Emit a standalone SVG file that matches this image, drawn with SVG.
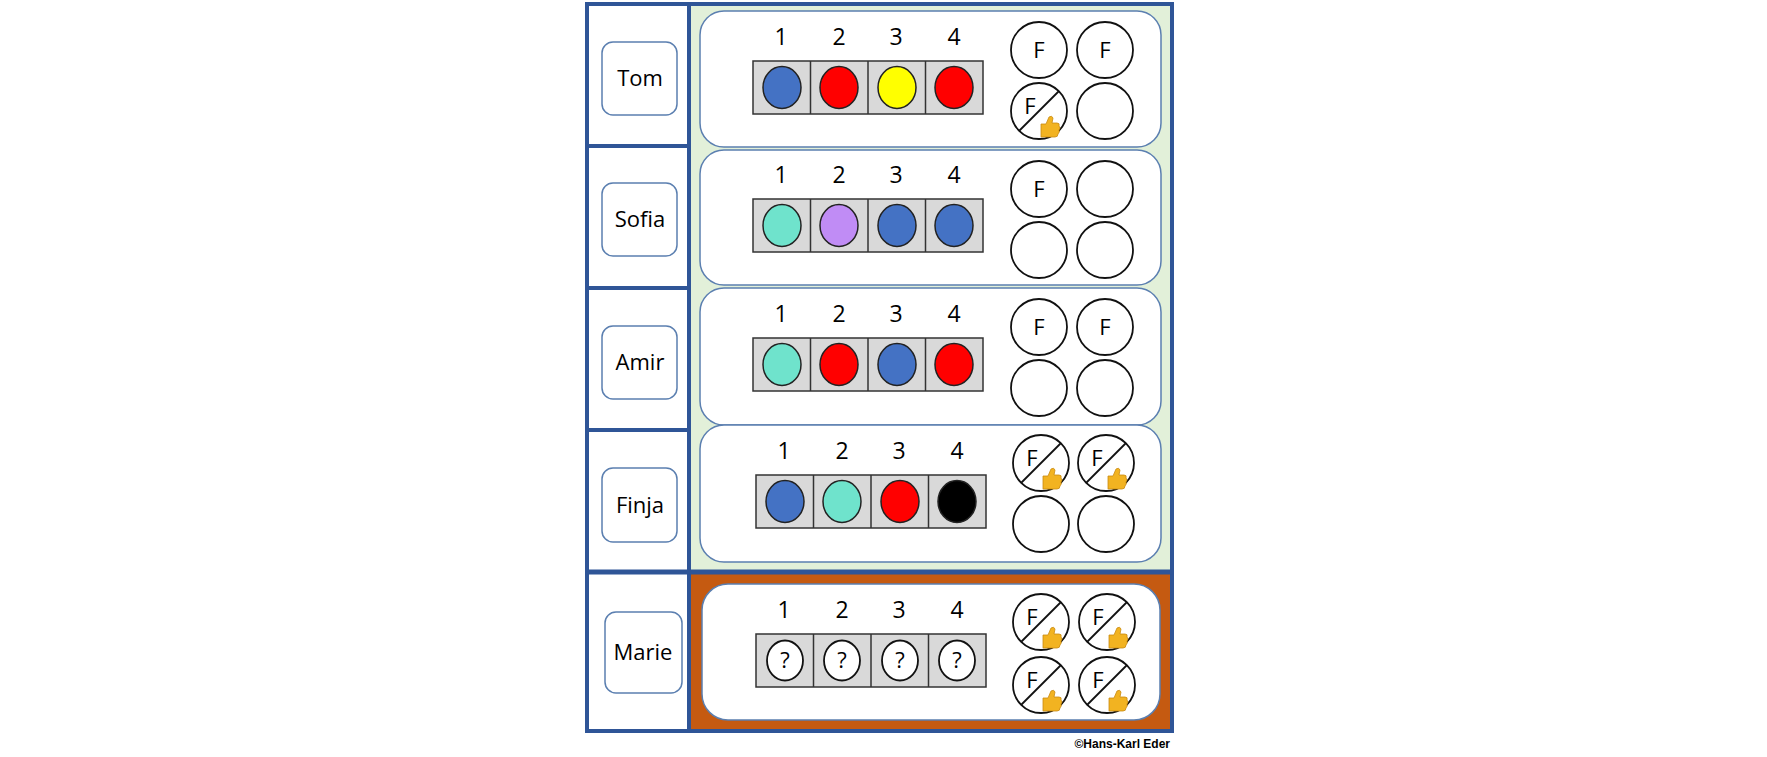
<svg xmlns="http://www.w3.org/2000/svg" xmlns:xlink="http://www.w3.org/1999/xlink" width="1767" height="757" viewBox="0 0 1767 757">
<style>
.frame{fill:none;stroke:#2F5597;stroke-width:4}
.box{fill:#fff;stroke:#5B7FB0;stroke-width:1.5}
.name{font-family:"Open Sans","Liberation Sans",sans-serif;font-size:22px;text-anchor:middle;fill:#000}
.num{font-family:"Open Sans","Liberation Sans",sans-serif;font-size:23px;text-anchor:middle;fill:#000}
.slot{fill:#D9D9D9;stroke:#333;stroke-width:1.5}
.dot{stroke:#222;stroke-width:1.5}
.ring{fill:#fff;stroke:#111;stroke-width:1.8}
.f{font-family:"Open Sans","Liberation Sans",sans-serif;font-size:22px;text-anchor:middle;fill:#000}
.copy{font-family:"Liberation Sans",sans-serif;font-size:12px;font-weight:bold;text-anchor:end;fill:#000}
</style>
<defs>
<g id="thumb">
<path d="M-7,-1 h5 l3,-7 q3,-2 4,1 l-1,5 h5 q3,0 2,3 q2,2 0,4 q1,2 -1,4 q0,3 -3,3 h-9 h-5 z" fill="#F2B321" stroke="#C98A12" stroke-width="0.8"/>
</g>
<g id="fring"><circle r="28" class="ring"/><text y="8" class="f">F</text></g>
<g id="xring"><circle r="28" class="ring"/><line x1="-20" y1="20" x2="20" y2="-20" stroke="#111" stroke-width="1.8"/><text x="-9" y="3" class="f">F</text><use xlink:href="#thumb" x="9" y="14"/></g>
<g id="ering"><circle r="28" class="ring"/></g>
<g id="slots">
<rect x="0" y="0" width="230" height="53" class="slot"/>
<line x1="57.5" y1="0" x2="57.5" y2="53" stroke="#333" stroke-width="1.5"/>
<line x1="115" y1="0" x2="115" y2="53" stroke="#333" stroke-width="1.5"/>
<line x1="172.5" y1="0" x2="172.5" y2="53" stroke="#333" stroke-width="1.5"/>
<text x="28" y="-16" class="num">1</text><text x="86" y="-16" class="num">2</text><text x="143" y="-16" class="num">3</text><text x="201" y="-16" class="num">4</text>
</g>
</defs>
<rect width="1767" height="757" fill="#fff"/>
<rect id="green-panel" x="689" y="4" width="483" height="567" fill="#E2F0D9"/>
<rect id="orange-panel" x="689" y="573" width="483" height="158" fill="#C55A11"/>

<g id="row-tom">
<rect x="700" y="11" width="461" height="136" rx="24" class="box"/>
<use xlink:href="#slots" x="753" y="61"/>
<ellipse cx="782" cy="87.5" rx="19" ry="21" fill="#4472C4" class="dot"/>
<ellipse cx="839" cy="87.5" rx="19" ry="21" fill="#FF0000" class="dot"/>
<ellipse cx="897" cy="87.5" rx="19" ry="21" fill="#FFFF00" class="dot"/>
<ellipse cx="954" cy="87.5" rx="19" ry="21" fill="#FF0000" class="dot"/>
<use xlink:href="#fring" x="1039" y="50"/><use xlink:href="#fring" x="1105" y="50"/>
<use xlink:href="#xring" x="1039" y="111"/><use xlink:href="#ering" x="1105" y="111"/>
</g>
<g id="row-sofia">
<rect x="700" y="150" width="461" height="135" rx="24" class="box"/>
<use xlink:href="#slots" x="753" y="199"/>
<ellipse cx="782" cy="225.5" rx="19" ry="21" fill="#6FE3CC" class="dot"/>
<ellipse cx="839" cy="225.5" rx="19" ry="21" fill="#C08CF5" class="dot"/>
<ellipse cx="897" cy="225.5" rx="19" ry="21" fill="#4472C4" class="dot"/>
<ellipse cx="954" cy="225.5" rx="19" ry="21" fill="#4472C4" class="dot"/>
<use xlink:href="#fring" x="1039" y="189"/><use xlink:href="#ering" x="1105" y="189"/>
<use xlink:href="#ering" x="1039" y="250"/><use xlink:href="#ering" x="1105" y="250"/>
</g>
<g id="row-amir">
<rect x="700" y="288" width="461" height="137" rx="24" class="box"/>
<use xlink:href="#slots" x="753" y="338"/>
<ellipse cx="782" cy="364.5" rx="19" ry="21" fill="#6FE3CC" class="dot"/>
<ellipse cx="839" cy="364.5" rx="19" ry="21" fill="#FF0000" class="dot"/>
<ellipse cx="897" cy="364.5" rx="19" ry="21" fill="#4472C4" class="dot"/>
<ellipse cx="954" cy="364.5" rx="19" ry="21" fill="#FF0000" class="dot"/>
<use xlink:href="#fring" x="1039" y="327"/><use xlink:href="#fring" x="1105" y="327"/>
<use xlink:href="#ering" x="1039" y="388"/><use xlink:href="#ering" x="1105" y="388"/>
</g>
<g id="row-finja">
<rect x="700" y="425" width="461" height="137" rx="24" class="box"/>
<use xlink:href="#slots" x="756" y="475"/>
<ellipse cx="785" cy="501.5" rx="19" ry="21" fill="#4472C4" class="dot"/>
<ellipse cx="842" cy="501.5" rx="19" ry="21" fill="#6FE3CC" class="dot"/>
<ellipse cx="900" cy="501.5" rx="19" ry="21" fill="#FF0000" class="dot"/>
<ellipse cx="957" cy="501.5" rx="19" ry="21" fill="#000" class="dot"/>
<use xlink:href="#xring" x="1041" y="463"/><use xlink:href="#xring" x="1106" y="463"/>
<use xlink:href="#ering" x="1041" y="524"/><use xlink:href="#ering" x="1106" y="524"/>
</g>
<g id="row-marie">
<rect x="702" y="584" width="458" height="136" rx="26" class="box"/>
<use xlink:href="#slots" x="756" y="634"/>
<ellipse cx="785" cy="660.5" rx="18" ry="20" class="ring"/><text x="785" y="668" class="f">?</text>
<ellipse cx="842" cy="660.5" rx="18" ry="20" class="ring"/><text x="842" y="668" class="f">?</text>
<ellipse cx="900" cy="660.5" rx="18" ry="20" class="ring"/><text x="900" y="668" class="f">?</text>
<ellipse cx="957" cy="660.5" rx="18" ry="20" class="ring"/><text x="957" y="668" class="f">?</text>
<use xlink:href="#xring" x="1041" y="622"/><use xlink:href="#xring" x="1107" y="622"/>
<use xlink:href="#xring" x="1041" y="685"/><use xlink:href="#xring" x="1107" y="685"/>
</g>

<g id="names">
<g id="name-tom"><rect x="602" y="42" width="75" height="73" rx="11" class="box"/><text x="640" y="86" class="name">Tom</text></g>
<g id="name-sofia"><rect x="602" y="183" width="75" height="73" rx="11" class="box"/><text x="640" y="227" class="name">Sofia</text></g>
<g id="name-amir"><rect x="602" y="326" width="75" height="73" rx="11" class="box"/><text x="640" y="370" class="name">Amir</text></g>
<g id="name-finja"><rect x="602" y="468" width="75" height="74" rx="11" class="box"/><text x="640" y="513" class="name">Finja</text></g>
<g id="name-marie"><rect x="605" y="612" width="77" height="81" rx="11" class="box"/><text x="643" y="660" class="name">Marie</text></g>
</g>

<g id="connectors">
<rect x="587" y="4" width="585" height="727" class="frame"/>
<line x1="689" y1="4" x2="689" y2="731" class="frame"/>
<line x1="587" y1="146" x2="689" y2="146" class="frame"/>
<line x1="587" y1="288" x2="689" y2="288" class="frame"/>
<line x1="587" y1="430" x2="689" y2="430" class="frame"/>
<line x1="587" y1="572" x2="1172" y2="572" stroke="#2F5597" stroke-width="5"/>
</g>
<text x="1170" y="748" class="copy">©Hans-Karl Eder</text>
</svg>
